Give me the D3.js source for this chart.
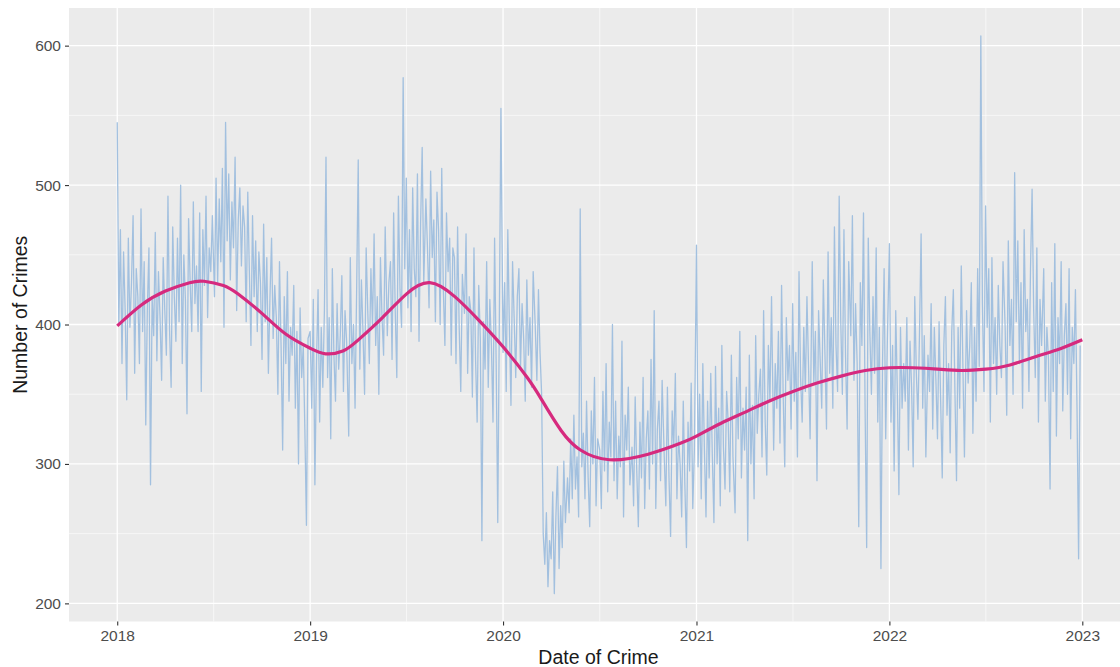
<!DOCTYPE html>
<html>
<head>
<meta charset="utf-8">
<script src="https://cdn.jsdelivr.net/npm/d3@7"></script>
<style>
  body { margin: 0; background: #fff; }
  svg { display: block; font-family: "Liberation Sans", Arial, Helvetica, sans-serif; }
</style>
</head>
<body>
<svg width="1120" height="667"></svg>
<script>
// daily crime counts, roughly every third day, one array per year
const counts2018 = [
  545, 400, 468, 372, 452, 410, 346, 462, 398, 430,
  478, 365, 440, 420, 372, 483, 395, 445, 328, 412,
  455, 285, 420, 392, 466, 374, 438, 405, 360, 448,
  410, 378, 492, 396, 355, 470, 420, 388, 462, 402,
  500, 372, 450, 418, 336, 476, 430, 395, 488, 415,
  442, 395, 480, 352, 468, 428, 492, 405, 455, 438,
  478, 420, 505, 430, 490, 445, 512, 398, 545, 460,
  508, 432, 488, 455, 520, 410, 475, 498, 442, 485,
  470, 402, 495, 438, 385, 478, 420, 460, 395, 452,
  430, 375, 472, 402, 448, 365, 420, 462, 390, 428,
  405, 350, 445, 385, 310, 420, 372, 438, 345, 398,
  378, 428, 340, 395, 300, 412, 362, 385, 325, 256, 390
];
const counts2019 = [
  395, 340, 418, 285, 372, 425, 330, 398, 355, 410,
  520, 362, 405, 318, 440, 378, 345, 415, 368, 392,
  435, 352, 410, 388, 320, 448, 372, 400, 340, 425,
  518, 368, 432, 395, 350, 455, 410, 372, 440, 398,
  465, 385, 420, 350, 448, 405, 378, 470, 392, 430,
  445, 375, 480, 410, 362, 492, 425, 398, 577, 440,
  505, 412, 468, 395, 498, 440, 420, 508, 388, 472,
  527, 430, 490, 455, 412, 510, 448, 475, 402, 495,
  468, 400, 512, 425, 385, 480, 438, 462, 378, 455,
  448, 372, 470, 398, 352, 436, 408, 465, 365, 420,
  410, 348, 455, 375, 330, 428, 390, 245, 402, 368,
  445, 355, 418, 385, 330, 462, 372, 258, 405, 555
];
const counts2020 = [
  380, 430, 352, 468, 398, 342, 445, 405, 362, 420,
  440, 368, 415, 390, 345, 432, 378, 405, 355, 438,
  398, 360, 425, 380, 350, 250, 228, 265, 212, 245,
  232, 280, 207, 262, 298, 225, 270, 240, 302, 258,
  290, 265, 318, 275, 335, 282, 305, 262, 483, 298,
  322, 275, 345, 290, 255, 338, 300, 362, 270, 318,
  310, 268, 352, 295, 372, 280, 330, 305, 400, 288,
  345, 275, 320, 298, 388, 262, 335, 310, 355, 285,
  312, 270, 348, 295, 255, 330, 290, 362, 268, 318,
  338, 282, 375, 300, 410, 268, 325, 345, 288, 360,
  305, 270, 355, 290, 248, 338, 312, 365, 275, 320,
  300, 262, 345, 285, 240, 330, 295, 358, 268, 310
];
const counts2021 = [
  457, 298, 350, 275, 372, 310, 262, 345, 290, 365,
  305, 258, 370, 300, 340, 270, 385, 312, 282, 352,
  330, 280, 378, 305, 265, 362, 318, 395, 290, 340,
  310, 355, 245, 378, 300, 342, 275, 392, 322, 350,
  368, 305, 410, 330, 292, 385, 345, 420, 310, 372,
  340, 395, 315, 428, 350, 298, 405, 360, 385, 325,
  415, 345, 380, 305, 438, 362, 330, 398, 352, 420,
  370, 318, 445, 358, 395, 288, 410, 375, 340, 432,
  380, 325, 452, 365, 405, 340, 470, 385, 352, 492,
  402, 350, 468, 378, 325, 445, 392, 478, 360, 415,
  372, 255, 430, 385, 480, 340, 240, 462, 395, 350,
  420, 365, 455, 330, 398, 225, 372, 440, 318, 385
];
const counts2022 = [
  458, 330, 385, 295, 410, 352, 278, 398, 340, 372,
  345, 405, 310, 388, 355, 298, 420, 365, 332, 395,
  465, 340, 392, 305, 378, 352, 415, 325, 398, 360,
  318, 402, 345, 290, 385, 420, 335, 372, 308, 395,
  425, 352, 288, 398, 340, 442, 372, 305, 410, 358,
  385, 430, 322, 398, 345, 440, 370, 607, 415, 352,
  485, 398, 440, 330, 448, 372, 405, 350, 428, 385,
  362, 445, 398, 335, 460, 385, 418, 350, 509, 402,
  460, 372, 430, 340, 468, 395, 418, 352, 440, 497,
  410, 362, 455, 330, 418, 385, 440, 345, 398, 375,
  282, 430, 352, 458, 320, 405, 372, 445, 338, 392,
  415, 350, 440, 318, 398, 372, 425, 340, 232, 385
];

// loess-like trend line, read at points along the year (year fraction, value)
const trendYears = [2018.0, 2018.125, 2018.25, 2018.375, 2018.45, 2018.55, 2018.625, 2018.75, 2018.875,
  2019.0, 2019.08, 2019.17, 2019.25, 2019.375, 2019.5, 2019.62, 2019.75, 2019.875,
  2020.0, 2020.125, 2020.2, 2020.3, 2020.4, 2020.55, 2020.75, 2020.92,
  2021.0, 2021.125, 2021.25, 2021.375, 2021.5, 2021.625, 2021.75, 2021.875,
  2022.0, 2022.125, 2022.25, 2022.375, 2022.5, 2022.625, 2022.78, 2022.875, 2023.0];
const trendValues = [399, 414, 424, 430, 431, 428, 422, 408, 393,
  383, 379, 381, 389, 405, 422, 430, 420, 403,
  384, 362, 346, 324, 310, 303, 307, 315,
  320, 329, 337, 345, 352, 358, 363, 367,
  369, 369, 368, 367, 368, 371, 378, 382, 389];

const yTicks = [200, 300, 400, 500, 600];
const yMinor = [250, 350, 450, 550];
const xTickYears = [2018, 2019, 2020, 2021, 2022, 2023];

const yearArrays = [[2018, counts2018], [2019, counts2019], [2020, counts2020], [2021, counts2021], [2022, counts2022]];
const series = [];
yearArrays.forEach(([yr, arr]) => {
  const start = new Date(yr, 0, 1);
  const days = d3.timeDay.count(start, new Date(yr + 1, 0, 1));
  arr.forEach((v, i) => {
    series.push({ date: d3.timeDay.offset(start, Math.floor(i * days / arr.length)), value: v });
  });
});

function fracToDate(f) {
  const yr = Math.floor(f);
  const start = new Date(yr, 0, 1), end = new Date(yr + 1, 0, 1);
  return new Date(+start + (f - yr) * (end - start));
}
const trend = trendYears.map((f, i) => ({ date: fracToDate(f), value: trendValues[i] }));

const svg = d3.select("svg"),
  panel = { left: 69, right: 1130, top: 8, bottom: 621.5 };

// ggplot-style 5% expansion
const dStart = new Date(2018, 0, 1), dEnd = new Date(2022, 11, 31);
const span = dEnd - dStart;
const x = d3.scaleTime()
  .domain([new Date(+dStart - span * 0.05), new Date(+dEnd + span * 0.05)])
  .range([panel.left, panel.right]);
const vMin = 207, vMax = 607;
const y = d3.scaleLinear()
  .domain([vMin - (vMax - vMin) * 0.05, vMax + (vMax - vMin) * 0.05])
  .range([panel.bottom, panel.top]);

svg.append("rect")
  .attr("x", panel.left).attr("y", panel.top)
  .attr("width", panel.right - panel.left).attr("height", panel.bottom - panel.top)
  .attr("fill", "#ebebeb");

const grid = svg.append("g");
grid.selectAll(".ymin").data(yMinor).enter().append("line")
  .attr("x1", panel.left).attr("x2", panel.right)
  .attr("y1", d => y(d)).attr("y2", d => y(d))
  .attr("stroke", "#fff").attr("stroke-width", 0.6);
const xMinor = xTickYears.slice(0, -1).map(yr => new Date((+new Date(yr, 0, 1) + +new Date(yr + 1, 0, 1)) / 2));
grid.selectAll(".xmin").data(xMinor).enter().append("line")
  .attr("y1", panel.top).attr("y2", panel.bottom)
  .attr("x1", d => x(d)).attr("x2", d => x(d))
  .attr("stroke", "#fff").attr("stroke-width", 0.6);
grid.selectAll(".ymaj").data(yTicks).enter().append("line")
  .attr("x1", panel.left).attr("x2", panel.right)
  .attr("y1", d => y(d)).attr("y2", d => y(d))
  .attr("stroke", "#fff").attr("stroke-width", 1.3);
grid.selectAll(".xmaj").data(xTickYears).enter().append("line")
  .attr("y1", panel.top).attr("y2", panel.bottom)
  .attr("x1", d => x(new Date(d, 0, 1))).attr("x2", d => x(new Date(d, 0, 1)))
  .attr("stroke", "#fff").attr("stroke-width", 1.3);

svg.append("path")
  .datum(series)
  .attr("fill", "none")
  .attr("stroke", "#a2c0df")
  .attr("stroke-width", 1.3)
  .attr("stroke-linejoin", "round")
  .attr("d", d3.line().x(d => x(d.date)).y(d => y(d.value)));

svg.append("path")
  .datum(trend)
  .attr("fill", "none")
  .attr("stroke", "#d62a7e")
  .attr("stroke-width", 3.2)
  .attr("d", d3.line().curve(d3.curveNatural).x(d => x(d.date)).y(d => y(d.value)));

// axes
const xAxis = svg.append("g")
  .attr("transform", `translate(0,${panel.bottom})`)
  .call(d3.axisBottom(x).tickValues(xTickYears.map(yr => new Date(yr, 0, 1)))
    .tickFormat(d3.timeFormat("%Y")).tickSize(4).tickPadding(4));
const yAxis = svg.append("g")
  .attr("transform", `translate(${panel.left},0)`)
  .call(d3.axisLeft(y).tickValues(yTicks).tickSize(4).tickPadding(4));

[xAxis, yAxis].forEach(a => {
  a.select(".domain").remove();
  a.selectAll(".tick line").attr("stroke", "#333").attr("stroke-width", 1.1);
  a.selectAll(".tick text").attr("fill", "#4d4d4d").style("font-size", "15.5px")
    .style("font-family", "\"Liberation Sans\", Arial, sans-serif");
});

svg.append("text")
  .attr("x", (panel.left + panel.right) / 2 - 1)
  .attr("y", 664)
  .attr("text-anchor", "middle")
  .style("font-size", "19.5px")
  .attr("fill", "#1a1a1a")
  .text("Date of Crime");

svg.append("text")
  .attr("transform", `translate(27,${(panel.top + panel.bottom) / 2}) rotate(-90)`)
  .attr("text-anchor", "middle")
  .style("font-size", "19.5px")
  .attr("fill", "#1a1a1a")
  .text("Number of Crimes");
</script>
</body>
</html>
